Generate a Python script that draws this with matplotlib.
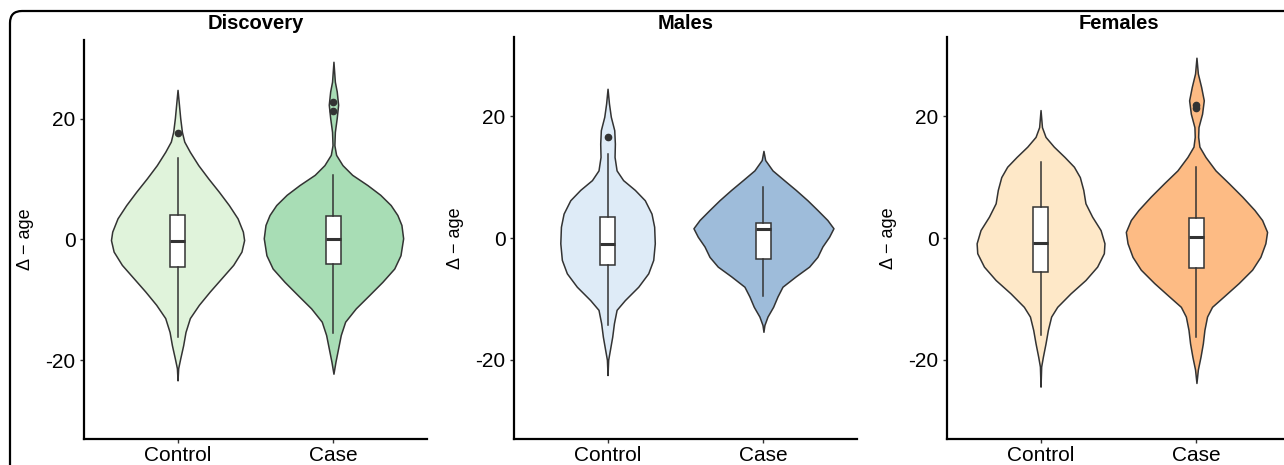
import matplotlib
matplotlib.use("Agg")
import matplotlib.pyplot as plt
from matplotlib.patches import FancyBboxPatch
from matplotlib.transforms import IdentityTransform

plt.rcParams['font.family'] = ['Liberation Sans', 'DejaVu Sans']

# ---------------- data ----------------
panel_titles = ["Discovery", "Males", "Females"]
groups = ["Control", "Case"]
y_label = "\u0394 \u2212 age"
y_ticks = [-20, 0, 20]

# violin density outlines: y level and half width (category units)
disc_ctrl_y = [24.75, 22.3, 20.1, 17.8, 16.2, 14.5, 12.3, 10.1, 7.9, 5.7, 3.5, 1.3, -0.1, -2.0, -4.2, -6.4, -8.6, -10.8, -13.0, -15.3, -17.5, -19.7, -21.3, -23.3]
disc_ctrl_w = [0.0, 0.009, 0.017, 0.028, 0.043, 0.079, 0.133, 0.197, 0.265, 0.329, 0.385, 0.419, 0.427, 0.41, 0.357, 0.282, 0.207, 0.137, 0.079, 0.051, 0.036, 0.017, 0.004, 0.0]
disc_case_y = [29.4, 26.1, 24.5, 22.3, 20.1, 17.8, 15.6, 14.0, 12.3, 10.7, 9.0, 7.4, 5.7, 4.05, 2.4, 0.2, -2.6, -4.8, -7.0, -9.2, -11.4, -13.6, -15.8, -18.0, -20.2, -22.2]
disc_case_w = [0.0, 0.009, 0.021, 0.03, 0.021, 0.009, 0.006, 0.017, 0.058, 0.12, 0.218, 0.30, 0.367, 0.41, 0.436, 0.447, 0.43, 0.39, 0.314, 0.229, 0.143, 0.075, 0.047, 0.03, 0.013, 0.0]
male_ctrl_y = [24.5, 22.1, 19.9, 17.7, 15.5, 13.3, 11.1, 9.5, 7.9, 6.2, 4.0, 1.85, -0.87, -3.6, -5.8, -8.0, -10.2, -11.8, -14.0, -16.2, -18.4, -20.0, -22.5]
male_ctrl_w = [0.0, 0.009, 0.021, 0.043, 0.047, 0.045, 0.058, 0.10, 0.175, 0.239, 0.282, 0.299, 0.303, 0.293, 0.261, 0.197, 0.111, 0.058, 0.041, 0.03, 0.015, 0.004, 0.0]
male_case_y = [14.3, 12.8, 11.1, 9.5, 7.9, 6.2, 4.6, 2.95, 1.6, 0.2, -1.4, -3.1, -4.7, -6.3, -8.0, -9.6, -11.3, -12.9, -14.3, -15.4]
male_case_w = [0.0, 0.011, 0.058, 0.132, 0.207, 0.282, 0.346, 0.41, 0.449, 0.421, 0.378, 0.346, 0.293, 0.207, 0.122, 0.09, 0.062, 0.026, 0.006, 0.0]
fem_ctrl_y = [21.0, 18.2, 16.6, 15.0, 13.3, 11.7, 10.0, 7.9, 5.7, 3.5, 1.3, -0.87, -2.5, -4.7, -6.9, -9.1, -11.3, -12.9, -15.1, -17.3, -19.5, -21.1, -24.4]
fem_ctrl_w = [0.0, 0.009, 0.032, 0.085, 0.154, 0.214, 0.252, 0.274, 0.288, 0.331, 0.385, 0.41, 0.406, 0.363, 0.288, 0.192, 0.107, 0.068, 0.047, 0.032, 0.015, 0.004, 0.0]
fem_case_y = [29.6, 27.0, 24.8, 22.6, 20.4, 18.2, 16.6, 15.0, 13.3, 11.1, 9.0, 6.8, 4.6, 2.95, 1.0, -0.87, -3.1, -5.2, -7.4, -9.6, -11.3, -12.9, -15.1, -17.3, -19.5, -21.6, -23.8]
fem_case_w = [0.0, 0.009, 0.03, 0.047, 0.036, 0.013, 0.011, 0.019, 0.058, 0.122, 0.207, 0.293, 0.372, 0.421, 0.453, 0.442, 0.41, 0.357, 0.271, 0.175, 0.10, 0.068, 0.051, 0.041, 0.026, 0.009, 0.0]

# box statistics: whisker low, q1, median, q3, whisker high; outliers separately
disc_ctrl_box = [-16.1, -4.6, -0.25, 4.06, 13.4]
disc_case_box = [-15.4, -4.1, 0.13, 3.95, 10.6]
male_ctrl_box = [-14.3, -4.5, -0.98, 3.4, 13.8]
male_case_box = [-9.6, -3.4, 1.4, 2.4, 8.4]
fem_ctrl_box = [-15.9, -5.6, -0.77, 5.1, 12.5]
fem_case_box = [-16.2, -5.0, 0.11, 3.3, 11.6]
disc_ctrl_out = [17.6]
disc_case_out = [22.8, 21.3]
male_ctrl_out = [16.5]
male_case_out = []
fem_ctrl_out = []
fem_case_out = [21.9, 21.3]

colors = [["#e0f3db", "#a8ddb5"], ["#deebf7", "#9ebcda"], ["#fee8c8", "#fdbb84"]]

violins = [
    [(disc_ctrl_y, disc_ctrl_w), (disc_case_y, disc_case_w)],
    [(male_ctrl_y, male_ctrl_w), (male_case_y, male_case_w)],
    [(fem_ctrl_y, fem_ctrl_w), (fem_case_y, fem_case_w)],
]
boxes = [
    [(disc_ctrl_box, disc_ctrl_out), (disc_case_box, disc_case_out)],
    [(male_ctrl_box, male_ctrl_out), (male_case_box, male_case_out)],
    [(fem_ctrl_box, fem_ctrl_out), (fem_case_box, fem_case_out)],
]

# ---------------- figure ----------------
W, H = 1284, 465
fig = plt.figure(figsize=(W / 100, H / 100), dpi=100)

lefts = [84, 514, 947]
tops = [40, 37, 37]
bottom_px = 439
width_px = 343
edge = "#333333"

for i in range(3):
    ax = fig.add_axes([lefts[i] / W, 1 - bottom_px / H, width_px / W, (bottom_px - tops[i]) / H])
    positions = [1, 2]
    for j in range(2):
        yv, wv = violins[i][j]
        pos = positions[j]
        ax.fill_betweenx(yv, [pos - w for w in wv], [pos + w for w in wv],
                         facecolor=colors[i][j], edgecolor=edge, linewidth=1.1,
                         joinstyle='round', zorder=1)
    stats = []
    for j in range(2):
        b, o = boxes[i][j]
        stats.append(dict(whislo=b[0], q1=b[1], med=b[2], q3=b[3], whishi=b[4], fliers=o))
    ax.bxp(stats, positions=positions, widths=0.1, patch_artist=True, showcaps=False,
           boxprops=dict(facecolor="white", edgecolor=edge, linewidth=1.1),
           whiskerprops=dict(color=edge, linewidth=1.1),
           medianprops=dict(color=edge, linewidth=2.2),
           flierprops=dict(marker='o', markersize=4.5, markerfacecolor=edge, markeredgecolor=edge),
           zorder=2)
    ax.set_xlim(0.4, 2.6)
    ax.set_ylim(-33, 33)
    ax.set_xticks(positions)
    ax.set_xticklabels(groups)
    ax.set_yticks(y_ticks)
    ax.set_yticklabels([str(t) for t in y_ticks])
    for s in ["top", "right"]:
        ax.spines[s].set_visible(False)
    for s in ["left", "bottom"]:
        ax.spines[s].set_linewidth(1.6)
        ax.spines[s].set_color("black")
    ax.tick_params(axis='both', labelsize=15, length=3, width=1.0, colors="#333333", labelcolor="black")
    ax.tick_params(axis='y', pad=3)
    ax.tick_params(axis='x', pad=2)
    ax.set_ylabel(y_label, fontsize=13, va='center')
    ax.yaxis.set_label_coords(-0.172, 0.5)
    ax.patch.set_alpha(0)
    fig.text((lefts[i] + width_px / 2) / W, 1 - 29 / H, panel_titles[i],
             ha='center', va='baseline', fontsize=14.5, fontweight='bold')

border = FancyBboxPatch((10, -100), 1400, (H - 11) + 100,
                        boxstyle="round,pad=0,rounding_size=12",
                        transform=IdentityTransform(), facecolor="none",
                        edgecolor="black", linewidth=1.6)
fig.patches.append(border)

fig.savefig("out.png", dpi=100)
